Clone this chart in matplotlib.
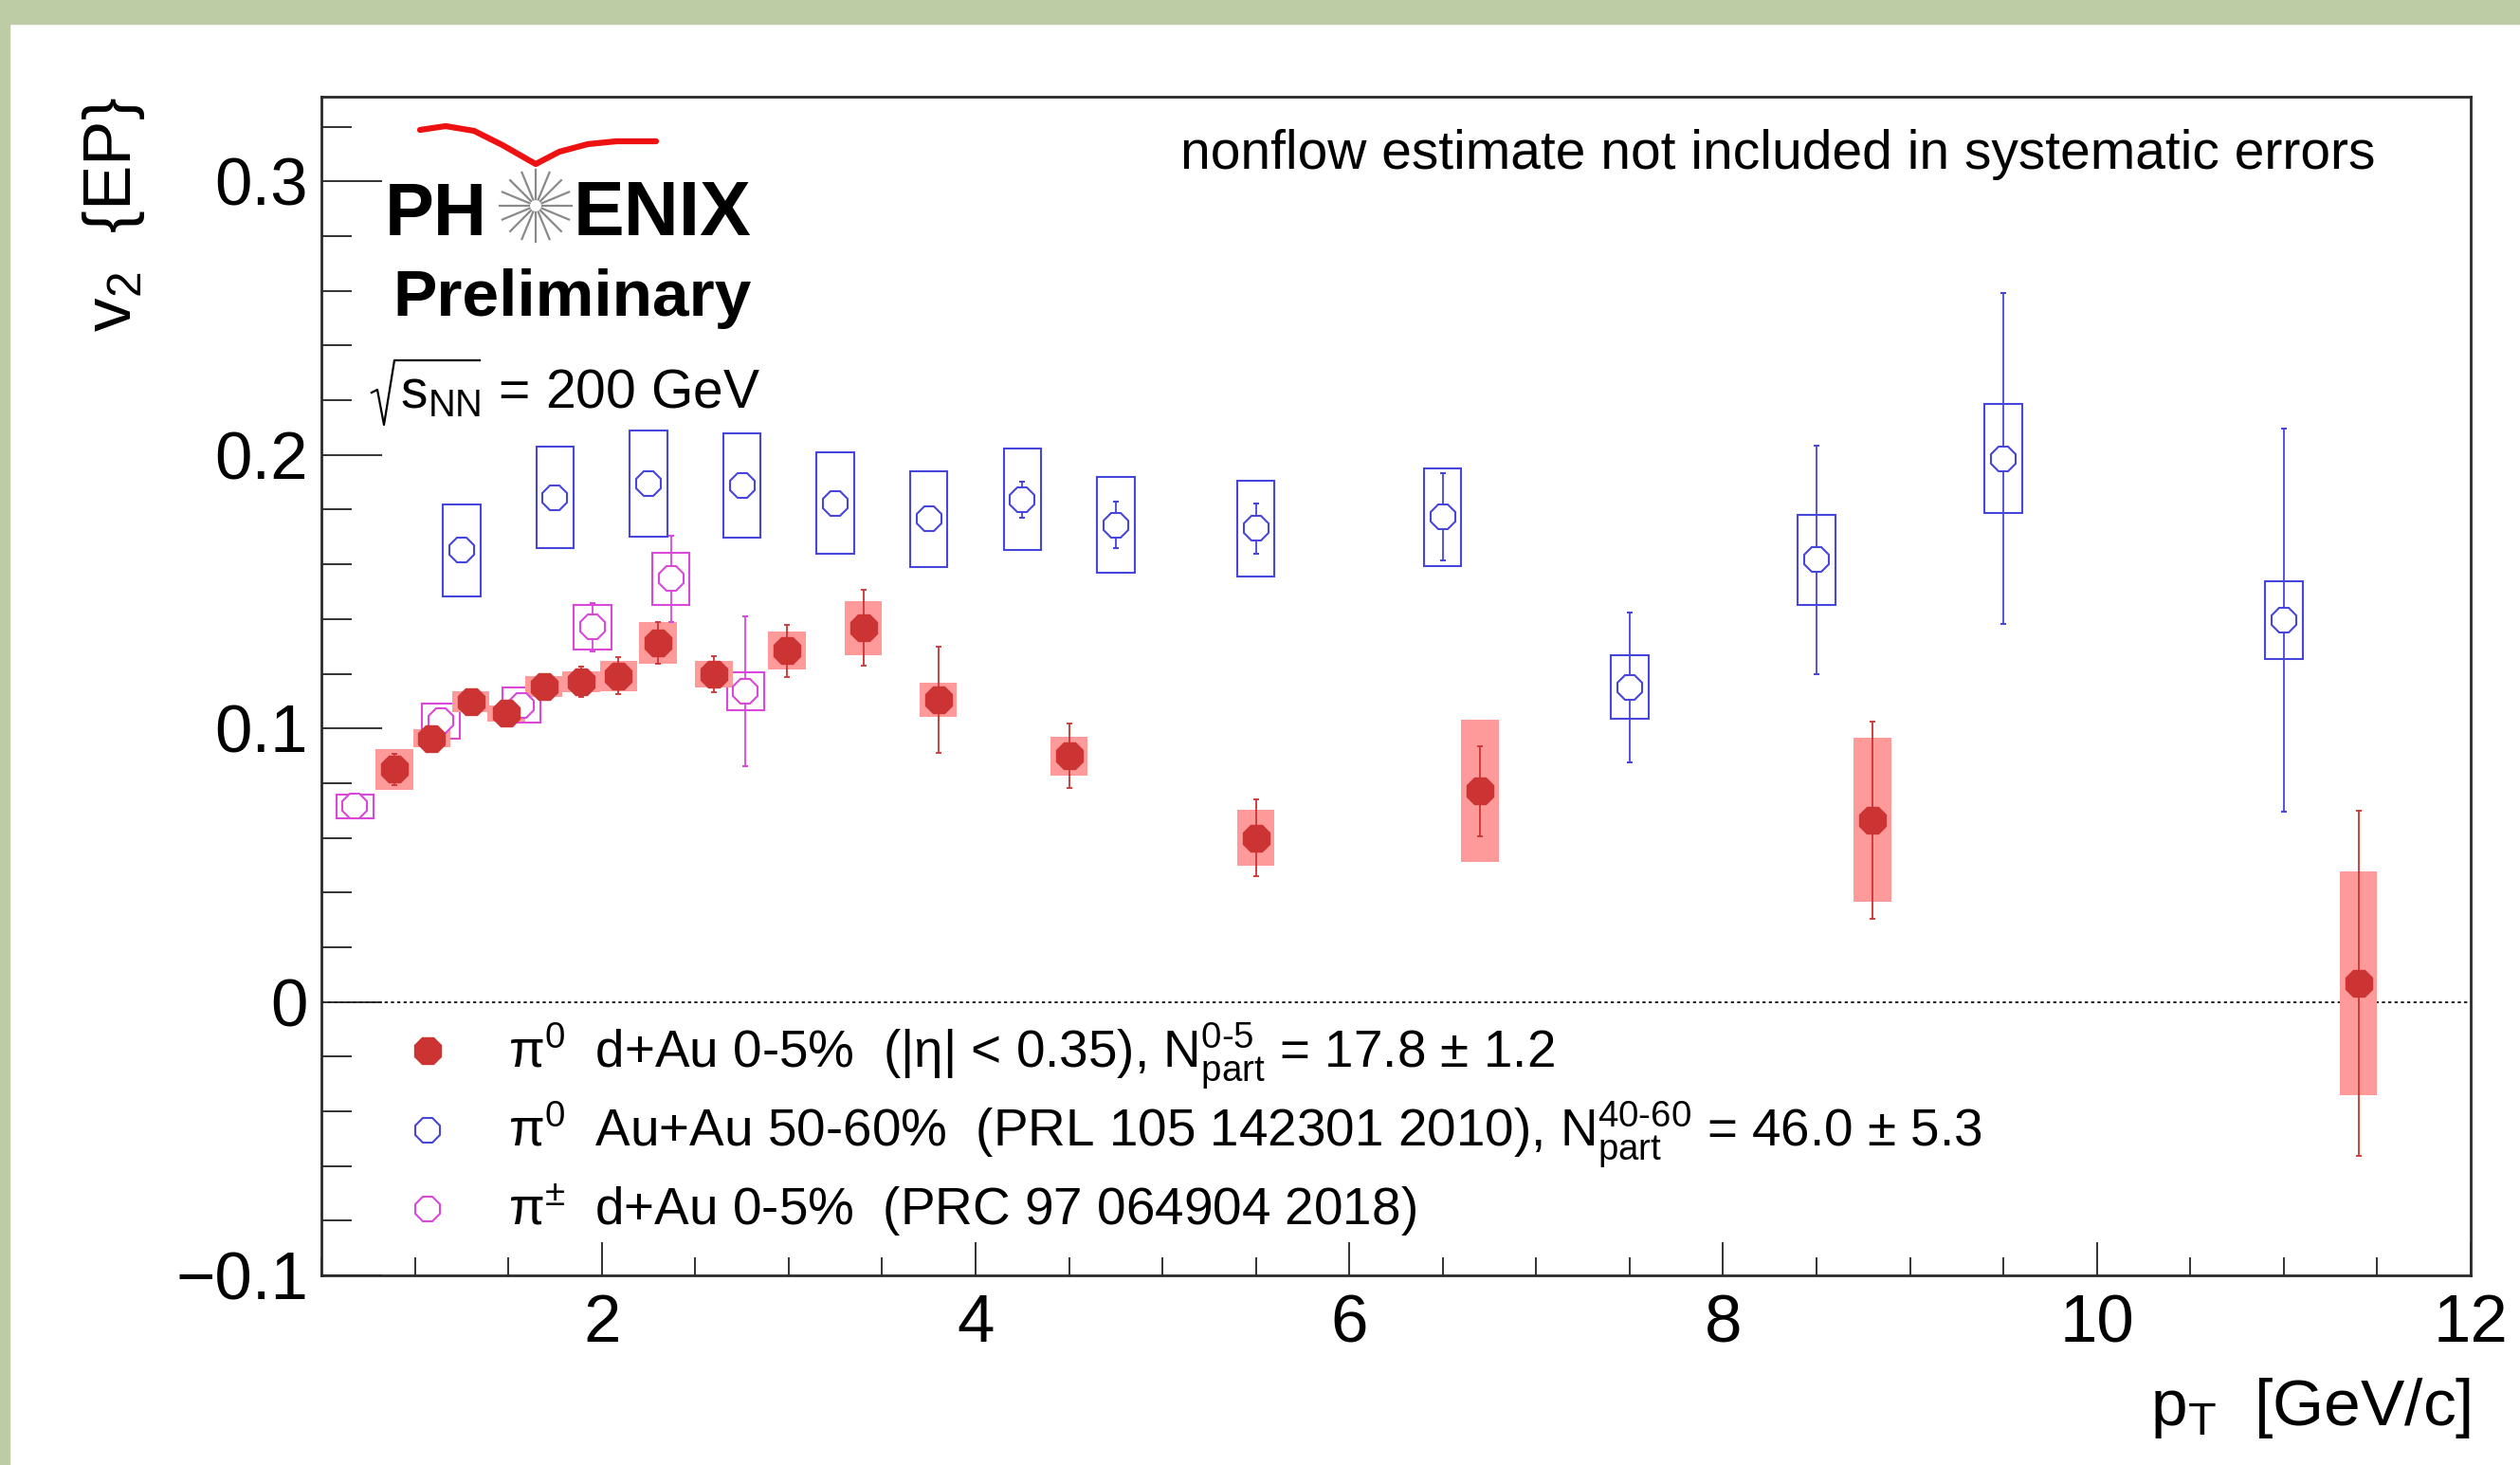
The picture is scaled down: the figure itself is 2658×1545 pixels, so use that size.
import numpy as np
import matplotlib.pyplot as plt
from matplotlib.lines import Line2D
from matplotlib.patches import Rectangle
from matplotlib.ticker import MultipleLocator

plt.rcParams['font.family'] = ['Liberation Sans', 'DejaVu Sans']
plt.rcParams['mathtext.fontset'] = 'custom'
plt.rcParams['mathtext.rm'] = 'Liberation Sans'
plt.rcParams['mathtext.it'] = 'Liberation Sans:italic'
plt.rcParams['mathtext.bf'] = 'Liberation Sans:bold'
plt.rcParams['axes.unicode_minus'] = True

# --- data: pi0 d+Au 0-5% (this measurement) ---
dau_pt = [0.89, 1.09, 1.30, 1.49, 1.69, 1.89, 2.09, 2.30, 2.60, 2.99, 3.40, 3.80,
          4.50, 5.50, 6.70, 8.80, 11.40]
dau_v2 = [0.0850, 0.0963, 0.1098, 0.1055, 0.1154, 0.1171, 0.1192, 0.1312, 0.1198,
          0.1284, 0.1368, 0.1104, 0.0899, 0.0600, 0.0771, 0.0665, 0.0068]
dau_stat = [0.0056, 0.0035, 0.0040, 0.0035, 0.0035, 0.0056, 0.0068, 0.0077, 0.0067,
            0.0096, 0.0139, 0.0195, 0.0118, 0.0141, 0.0164, 0.0360, 0.0632]
dau_sys = [0.0075, 0.0033, 0.0038, 0.0030, 0.0038, 0.0039, 0.0055, 0.0077, 0.0048,
           0.0069, 0.0099, 0.0063, 0.0070, 0.0101, 0.0260, 0.0300, 0.0410]

# --- pi0 Au+Au 50-60% (PRL 105 142301) ---
auau_pt = [1.25, 1.75, 2.25, 2.75, 3.25, 3.75, 4.25, 4.75, 5.5, 6.5, 7.5, 8.5, 9.5, 11.0]
auau_v2 = [0.1651, 0.1845, 0.1896, 0.1888, 0.1824, 0.1766, 0.1837, 0.1744, 0.1731,
           0.1773, 0.1151, 0.1617, 0.1987, 0.1396]
auau_stat = [0.002, 0.002, 0.002, 0.002, 0.002, 0.002, 0.0065, 0.0086, 0.0093,
             0.0160, 0.0274, 0.0418, 0.0604, 0.0702]
auau_sys = [0.0168, 0.0185, 0.0194, 0.0190, 0.0185, 0.0175, 0.0186, 0.0176, 0.0176,
            0.0179, 0.0117, 0.0165, 0.0200, 0.0142]

# --- pi+- d+Au 0-5% (PRC 97 064904) ---
pich_pt = [0.68, 1.14, 1.57, 1.95, 2.37, 2.77]
pich_v2 = [0.0715, 0.1027, 0.1085, 0.1370, 0.1547, 0.1137]
pich_stat = [0.002, 0.003, 0.003, 0.009, 0.0158, 0.0274]
pich_sys = [0.0044, 0.0065, 0.0065, 0.0083, 0.0094, 0.0069]

legend_labels = [
    r'$\mathrm{\pi}^{0}$  d+Au 0-5%  (|$\mathrm{\eta}$| < 0.35), '
    r'$\mathrm{N}^{\text{0-5}}_{\mathrm{part}}$ = 17.8 $\pm$ 1.2',
    r'$\mathrm{\pi}^{0}$  Au+Au 50-60%  (PRL 105 142301 2010), '
    r'$\mathrm{N}^{\text{40-60}}_{\mathrm{part}}$ = 46.0 $\pm$ 5.3',
    r'$\mathrm{\pi}^{\pm}$  d+Au 0-5%  (PRC 97 064904 2018)',
]

RED, PINK, BLUE, MAG = '#CC3333', '#FF9A9A', '#4646DC', '#DA48DA'
BOXW = 0.2

W, H = 2658, 1545
fig = plt.figure(figsize=(W / 100, H / 100), dpi=100)


def fx(px):
    return px / W


def fy(py):
    return 1 - py / H


# slide border
fig.add_artist(Rectangle((0, fy(25)), 1, 1, transform=fig.transFigure, color='#BECCA6', zorder=0))
fig.add_artist(Rectangle((0, 0), fx(10), 1, transform=fig.transFigure, color='#BECCA6', zorder=0))

ax = fig.add_axes([fx(339), fy(1345), fx(2606) - fx(339), fy(102) - fy(1345)])
ax.set_xlim(0.5, 12)
ax.set_ylim(-0.1, 0.331)

ax.axhline(0, color='black', lw=1.2, ls=(0, (2, 2)), zorder=1)

# systematic boxes
pich_v2a, pich_sysa = np.array(pich_v2), np.array(pich_sys)
dau_v2a, dau_sysa = np.array(dau_v2), np.array(dau_sys)
auau_v2a, auau_sysa = np.array(auau_v2), np.array(auau_sys)
ax.bar(pich_pt, 2 * pich_sysa, bottom=pich_v2a - pich_sysa, width=BOXW,
       fill=False, edgecolor=MAG, lw=1.5, zorder=2)
ax.bar(dau_pt, 2 * dau_sysa, bottom=dau_v2a - dau_sysa, width=BOXW,
       color=PINK, lw=0, zorder=2.2)
ax.bar(auau_pt, 2 * auau_sysa, bottom=auau_v2a - auau_sysa, width=BOXW,
       fill=False, edgecolor=BLUE, lw=1.5, zorder=2.4)

# points with statistical errors
ax.errorbar(pich_pt, pich_v2, yerr=pich_stat, fmt='8', ms=20, mfc='white', mec=MAG,
            mew=1.5, ecolor=MAG, elinewidth=1.3, capsize=2.5, capthick=1.3, zorder=3)
ax.errorbar(dau_pt, dau_v2, yerr=dau_stat, fmt='8', ms=22, mfc=RED, mec=RED,
            ecolor=RED, elinewidth=1.3, capsize=2.5, capthick=1.3, zorder=4)
ax.errorbar(auau_pt, auau_v2, yerr=auau_stat, fmt='8', ms=20, mfc='white', mec=BLUE,
            mew=1.5, ecolor=BLUE, elinewidth=1.3, capsize=2.5, capthick=1.3, zorder=4)

# axes style (ROOT-like)
ax.xaxis.set_major_locator(MultipleLocator(2))
ax.xaxis.set_minor_locator(MultipleLocator(0.5))
ax.yaxis.set_major_locator(MultipleLocator(0.1))
ax.yaxis.set_minor_locator(MultipleLocator(0.02))
ax.tick_params(axis='both', which='both', direction='in', top=False, right=False,
               width=1.3, color='#222222', labelsize=51)
ax.tick_params(axis='x', which='major', length=25, pad=14)
ax.tick_params(axis='x', which='minor', length=14)
ax.tick_params(axis='y', which='major', length=46, pad=10)
ax.tick_params(axis='y', which='minor', length=23)
ax.set_yticks([-0.1, 0, 0.1, 0.2, 0.3])
ax.set_yticklabels(['\u22120.1', '0', '0.1', '0.2', '0.3'])
for s in ax.spines.values():
    s.set_linewidth(2)
    s.set_color('#2a2a2a')

# axis titles
fig.text(fx(2606), fy(1503), r'p$_{\mathregular{T}}$  [GeV/c]', fontsize=50, ha='right', va='baseline')
fig.text(fx(120), fy(102), r'$\mathregular{v_{2}}$  {EP}', fontsize=51, rotation=90,
         ha='center', va='top')

fig.text(fx(2505), fy(178), 'nonflow estimate not included in systematic errors',
         fontsize=41, ha='right', va='baseline')

# PHENIX logo
fig.add_artist(Line2D([fx(p) for p in [443, 470, 500, 530, 565, 590, 620, 650, 692]],
                      [fy(p) for p in [137, 133, 138, 153, 173, 160, 152, 149, 149]],
                      color='#EE1111', lw=4.5, solid_capstyle='round', solid_joinstyle='round',
                      transform=fig.transFigure))
for k in range(16):
    a = np.pi * k / 8
    fig.add_artist(Line2D([fx(565 + 7 * np.cos(a)), fx(565 + 38 * np.cos(a))],
                          [fy(217 + 7 * np.sin(a)), fy(217 + 38 * np.sin(a))],
                          color='#8a8a8a', lw=1.6, transform=fig.transFigure))
fig.text(fx(514), fy(248), 'PH', fontsize=56, fontweight='bold', ha='right', va='baseline')
fig.text(fx(605), fy(248), 'ENIX', fontsize=58, fontweight='bold', ha='left', va='baseline')
fig.text(fx(414), fy(333), 'Preliminary', fontsize=50, fontweight='bold', ha='left', va='baseline')

# sqrt(s_NN) label, radical drawn by hand like ROOT's #sqrt
fig.add_artist(Line2D([fx(p) for p in [392, 398, 405, 416, 506]],
                      [fy(p) for p in [414, 411, 448, 380, 380]],
                      color='black', lw=1.6, transform=fig.transFigure))
fig.text(fx(422), fy(430), r'$\mathrm{s}_{\mathrm{NN}}$ = 200 GeV', fontsize=41,
         ha='left', va='baseline')

# legend
leg_style = [dict(mfc=RED, mec=RED, ms=22), dict(mfc='white', mec=BLUE, ms=20, mew=1.5),
             dict(mfc='white', mec=MAG, ms=20, mew=1.5)]
for i, (lab, st) in enumerate(zip(legend_labels, leg_style)):
    base = 1125 + i * 83.5
    fig.add_artist(Line2D([fx(451)], [fy(base - 17)], marker='8', ls='none',
                          transform=fig.transFigure, **st))
    fig.text(fx(536), fy(base), lab, fontsize=39.5, ha='left', va='baseline')

fig.savefig('out.png', dpi=100)
